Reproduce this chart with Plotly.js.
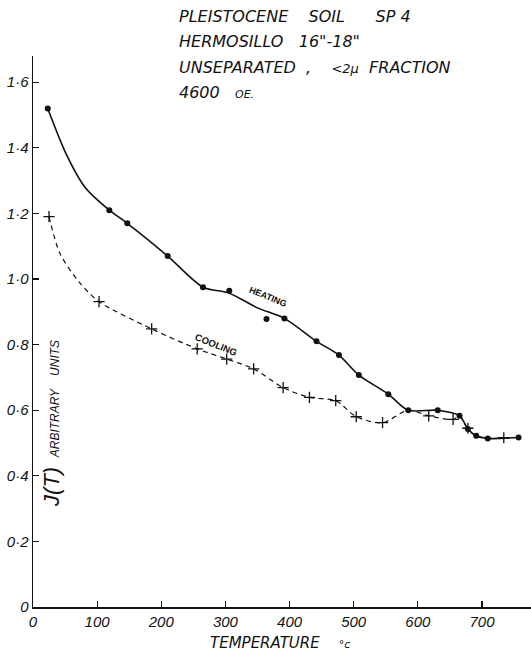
<!DOCTYPE html>
<html>
<head>
<meta charset="utf-8">
<script src="https://cdn.plot.ly/plotly-3.0.1.min.js"></script>
<style>html,body{margin:0;padding:0;background:#fff;}#chart{width:531px;height:656px;}</style>
</head>
<body>
<div id="chart"></div>
<script>
// Heating run: measured dots
const heatingT = [23, 119, 147, 210, 265, 392, 442, 477, 508, 554, 585, 631, 665, 678, 691, 709, 757];
const heatingJ = [1.52, 1.21, 1.17, 1.07, 0.975, 0.88, 0.81, 0.768, 0.707, 0.649, 0.60, 0.60, 0.583, 0.543, 0.522, 0.514, 0.517];
// Heating run: the hand-drawn solid curve
const heatingCurveT = [23, 52, 81, 119, 147, 210, 265, 306, 350, 392, 442, 477, 508, 554, 585, 631, 665, 678, 691, 709, 757];
const heatingCurveJ = [1.52, 1.38, 1.28, 1.21, 1.17, 1.07, 0.975, 0.957, 0.912, 0.88, 0.81, 0.768, 0.707, 0.649, 0.60, 0.60, 0.583, 0.543, 0.522, 0.514, 0.517];
// Heating measurements lying off the drawn curve
const heatingOffT = [306, 364];
const heatingOffJ = [0.964, 0.878];
// Cooling run: measured crosses
const coolingT = [25, 103, 185, 256, 302, 344, 390, 431, 472, 504, 545, 617, 655, 678, 734];
const coolingJ = [1.19, 0.931, 0.848, 0.787, 0.756, 0.726, 0.669, 0.639, 0.629, 0.580, 0.562, 0.583, 0.572, 0.545, 0.516];
// Cooling run: the dashed curve
const coolingCurveT = [25, 42, 73, 103, 185, 256, 302, 344, 390, 431, 472, 504, 545, 585, 617, 655, 665, 678, 691, 709, 734];
const coolingCurveJ = [1.19, 1.078, 0.988, 0.931, 0.848, 0.787, 0.756, 0.726, 0.669, 0.639, 0.629, 0.580, 0.562, 0.600, 0.583, 0.572, 0.583, 0.543, 0.522, 0.514, 0.516];
// Axis ticks
const xTicks = [0, 100, 200, 300, 400, 500, 600, 700];
const yTicks = [0, 0.2, 0.4, 0.6, 0.8, 1.0, 1.2, 1.4, 1.6];
const yTickText = ['0', '0·2', '0·4', '0·6', '0·8', '1·0', '1·2', '1·4', '1·6'];
// Header text
const titleLines = ['PLEISTOCENE    SOIL      SP 4', 'HERMOSILLO   16"-18"', 'UNSEPARATED  ,    <span style="font-size:13px">&lt;2μ</span>  FRACTION', '4600   <span style="font-size:11px">OE.</span>'];

const W = 531, H = 656;
const M = {l: 33, r: 0, t: 56, b: 49};
const PW = W - M.l - M.r, PH = H - M.t - M.b;
const px = x => (x - M.l) / PW;
const py = y => (H - M.b - y) / PH;

const FONT = '"Liberation Sans", Arial, sans-serif';
const TFONT = '"DejaVu Sans", "Liberation Sans", sans-serif';

const traces = [
  {x: heatingCurveT, y: heatingCurveJ, mode: 'lines', line: {color: '#111', width: 1.6, shape: 'spline', smoothing: 0.8}, hoverinfo: 'skip'},
  {x: heatingT, y: heatingJ, mode: 'markers', marker: {color: '#111', size: 6, symbol: 'circle'}, hoverinfo: 'skip'},
  {x: heatingOffT, y: heatingOffJ, mode: 'markers', marker: {color: '#111', size: 6, symbol: 'circle'}, hoverinfo: 'skip'},
  {x: coolingCurveT, y: coolingCurveJ, mode: 'lines', line: {color: '#111', width: 1.2, dash: '5px,4px', shape: 'spline', smoothing: 0.8}, hoverinfo: 'skip'},
  {x: coolingT, y: coolingJ, mode: 'markers', marker: {color: '#111', size: 8, symbol: 'cross-thin', line: {color: '#111', width: 1.3}}, hoverinfo: 'skip'}
];

const ann = [];
titleLines.forEach((t, i) => {
  ann.push({xref: 'paper', yref: 'paper', x: px(177), y: py(16 + i * 25.5), xanchor: 'left', yanchor: 'middle',
    text: '<i>' + t + '</i>', showarrow: false, font: {family: TFONT, size: 16, color: '#111'}});
});
ann.push({x: 367, y: 0.945, text: '<b>HEATING</b>', textangle: 22, showarrow: false, font: {family: FONT, size: 9, color: '#111'}});
ann.push({x: 285, y: 0.80, text: '<b>COOLING</b>', textangle: 22, showarrow: false, font: {family: FONT, size: 9.5, color: '#111'}});
ann.push({x: 29, y: 0.56, textangle: -90, showarrow: false,
  text: '<i><span style="font-size:22px">J(T)</span>   <span style="font-size:12px">ARBITRARY    UNITS</span></i>', font: {family: FONT, size: 12, color: '#111'}});
ann.push({xref: 'paper', yref: 'paper', x: px(280), y: py(643), xanchor: 'center', yanchor: 'middle', showarrow: false,
  text: '<i>TEMPERATURE    <span style="font-size:11px">°c</span></i>', font: {family: TFONT, size: 15, color: '#111'}});

const layout = {
  width: W, height: H, margin: M, showlegend: false,
  paper_bgcolor: '#fff', plot_bgcolor: '#fff',
  font: {family: FONT, color: '#111'},
  xaxis: {range: [0, (W - M.l) / 0.6414], tickvals: xTicks, ticktext: xTicks.map(v => '<i>' + v + '</i>'),
    ticks: 'inside', ticklen: 6, tickcolor: '#111', tickwidth: 1.2, showgrid: false, zeroline: false,
    showline: true, linecolor: '#111', linewidth: 1.5, tickfont: {family: FONT, size: 15, color: '#111'}},
  yaxis: {range: [0, 1.68], tickvals: yTicks, ticktext: yTickText.map(v => '<i>' + v + '</i>'),
    ticks: 'inside', ticklen: 6, tickcolor: '#111', tickwidth: 1.2, showgrid: false, zeroline: false,
    showline: true, linecolor: '#111', linewidth: 1.5, tickfont: {family: FONT, size: 15, color: '#111'}},
  annotations: ann
};

Plotly.newPlot('chart', traces, layout, {staticPlot: true, displayModeBar: false});
</script>
</body>
</html>
